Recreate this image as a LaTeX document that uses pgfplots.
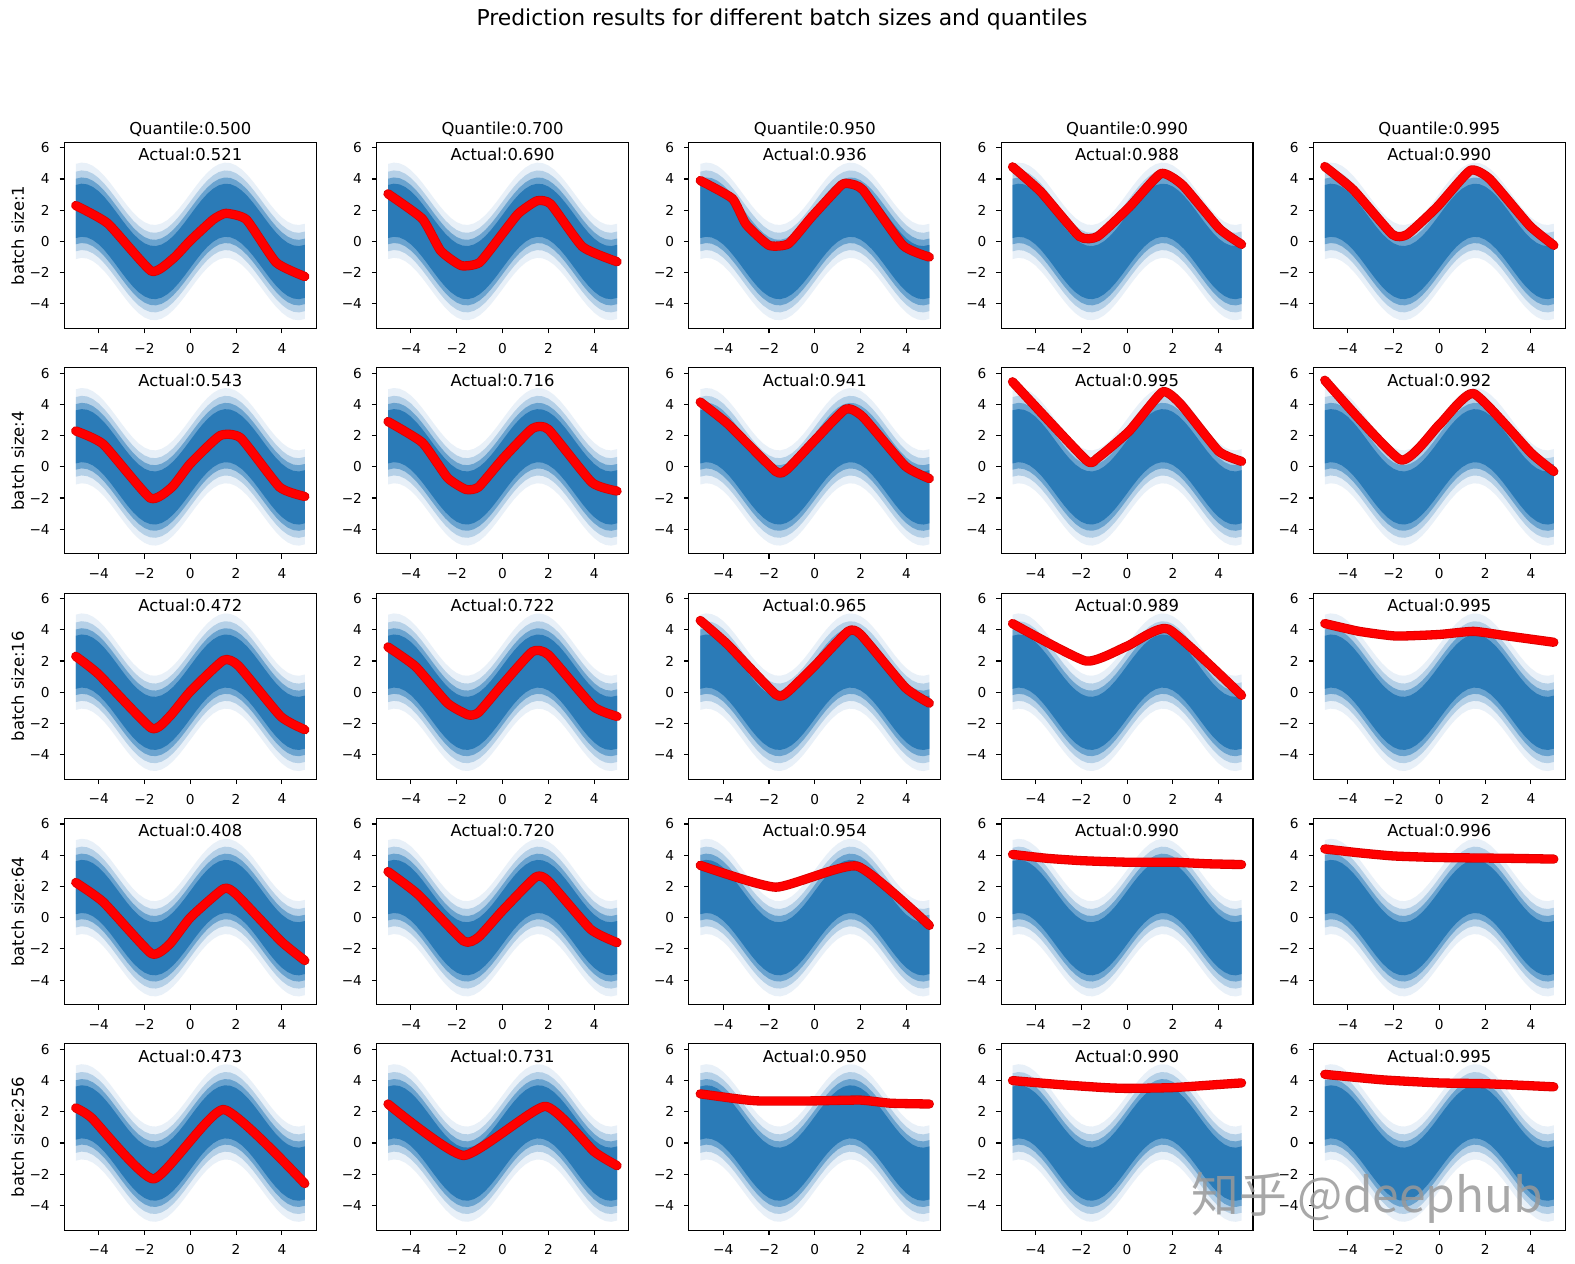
\documentclass[border=0pt]{standalone}
\usepackage{pgfplots}
\pgfplotsset{compat=1.18}
\usepackage{pgfplotstable}
\usepackage{fontspec}
\setmainfont{DejaVu Sans}
\newfontfamily\cjk{Noto Sans CJK SC}

\definecolor{b1}{HTML}{E8F0F8}
\definecolor{b2}{HTML}{B5D0E7}
\definecolor{b3}{HTML}{6AA3CF}
\definecolor{b4}{HTML}{2B7BB7}
\definecolor{redE}{HTML}{D80000}
\definecolor{redC}{HTML}{FF0000}

% centre of the blue point cloud (forward, then back: s = side)
\pgfplotstableread{
x c s
-5.00 1.918 1
-4.75 1.999 1
-4.50 1.955 1
-4.25 1.790 1
-4.00 1.514 1
-3.75 1.143 1
-3.50 0.702 1
-3.25 0.216 1
-3.00 -0.282 1
-2.75 -0.763 1
-2.50 -1.197 1
-2.25 -1.556 1
-2.00 -1.819 1
-1.75 -1.968 1
-1.50 -1.995 1
-1.25 -1.898 1
-1.00 -1.683 1
-0.75 -1.363 1
-0.50 -0.959 1
-0.25 -0.495 1
0.00 0.000 1
0.25 0.495 1
0.50 0.959 1
0.75 1.363 1
1.00 1.683 1
1.25 1.898 1
1.50 1.995 1
1.75 1.968 1
2.00 1.819 1
2.25 1.556 1
2.50 1.197 1
2.75 0.763 1
3.00 0.282 1
3.25 -0.216 1
3.50 -0.702 1
3.75 -1.143 1
4.00 -1.514 1
4.25 -1.790 1
4.50 -1.955 1
4.75 -1.999 1
5.00 -1.918 1
5.00 -1.918 -1
4.75 -1.999 -1
4.50 -1.955 -1
4.25 -1.790 -1
4.00 -1.514 -1
3.75 -1.143 -1
3.50 -0.702 -1
3.25 -0.216 -1
3.00 0.282 -1
2.75 0.763 -1
2.50 1.197 -1
2.25 1.556 -1
2.00 1.819 -1
1.75 1.968 -1
1.50 1.995 -1
1.25 1.898 -1
1.00 1.683 -1
0.75 1.363 -1
0.50 0.959 -1
0.25 0.495 -1
0.00 0.000 -1
-0.25 -0.495 -1
-0.50 -0.959 -1
-0.75 -1.363 -1
-1.00 -1.683 -1
-1.25 -1.898 -1
-1.50 -1.995 -1
-1.75 -1.968 -1
-2.00 -1.819 -1
-2.25 -1.556 -1
-2.50 -1.197 -1
-2.75 -0.763 -1
-3.00 -0.282 -1
-3.25 0.216 -1
-3.50 0.702 -1
-3.75 1.143 -1
-4.00 1.514 -1
-4.25 1.790 -1
-4.50 1.955 -1
-4.75 1.999 -1
-5.00 1.918 -1
}\cloud

\newcommand\band[2]{%
\addplot[fill=#2, draw=none, forget plot] table[x=x, y expr=\thisrow{c}+\thisrow{s}*#1]{\cloud};
}
\newcommand\cloudbands{\band{3.05}{b1}\band{2.55}{b2}\band{2.1}{b3}\band{1.7}{b4}}

\pgfplotsset{
  panel/.style={
    scale only axis, width=184.3pt, height=136.2pt,
    anchor=north west,
    xmin=-5.5, xmax=5.5, ymin=-5.58, ymax=6.35,
    xtick={-4,-2,0,2,4}, ytick={-4,-2,0,2,4,6},
    xticklabels={−4,−2,0,2,4}, yticklabels={−4,−2,0,2,4,6},
    tick align=outside, tick pos=left,
    major tick length=3.5pt,
    every tick/.style={black, line width=0.8pt},
    axis line style={line width=0.8pt},
    ticklabel style={font=\fontsize{10}{12}\selectfont, inner sep=0pt},
    xticklabel style={anchor=north, yshift=-7pt},
    yticklabel style={anchor=east, xshift=-7pt},
    every axis title/.style={at={(0.5,1)}, anchor=base, yshift=6pt, font=\fontsize{12}{14}\selectfont},
    every axis y label/.style={at={(-0.16,0.5)}, rotate=90, anchor=base, font=\fontsize{12}{14}\selectfont},
    clip mode=individual,
    axis on top,
  }
}

\newcommand\panel[5][]{%
\begin{axis}[panel, at={({47.03pt+#2*228.39pt},{820.4pt-#3*164.86pt})}, #1]
\cloudbands
\addplot[line width=6.8pt, redE, line cap=round, line join=round, smooth, tension=0.3] coordinates {#5};
\addplot[line width=5.6pt, redC, line cap=round, line join=round, smooth, tension=0.3] coordinates {#5};
\node[anchor=base, yshift=-13.5pt, font=\fontsize{12}{14}\selectfont] at (rel axis cs:0.5,1) {Actual:#4};
\end{axis}}

\begin{document}
\begin{tikzpicture}
\path[use as bounding box, fill=white] (0,0) rectangle (1152pt,924.5pt);
\node[anchor=base, font=\fontsize{16}{19}\selectfont] at (572pt,905.5pt) {Prediction results for different batch sizes and quantiles};

% row 0 : batch size 1
\panel[title={Quantile:0.500}, ylabel={batch size:1}]{0}{0}{0.521}{(-5,2.3) (-3.6,1.15) (-1.7,-1.9) (-0.75,-1.1) (0,0.05) (1.0,1.4) (1.55,1.8) (2.45,1.4) (3.75,-1.35) (5,-2.25)}
\panel[title={Quantile:0.700}]{1}{0}{0.690}{(-5,3.05) (-3.5,1.45) (-2.7,-0.6) (-1.8,-1.55) (-1.0,-1.35) (0,0.5) (0.7,1.8) (1.5,2.6) (2.1,2.4) (3.5,-0.35) (5,-1.3)}
\panel[title={Quantile:0.950}]{2}{0}{0.936}{(-5,3.9) (-3.6,2.75) (-3.0,1.1) (-2.0,-0.25) (-1.15,-0.15) (-0.15,1.55) (1.15,3.6) (1.5,3.7) (2.1,3.3) (3.85,-0.25) (5,-1.0)}
\panel[title={Quantile:0.990}]{3}{0}{0.988}{(-5,4.78) (-3.76,3.17) (-2.08,0.32) (-1.28,0.32) (0.1,2.2) (1.48,4.35) (2.43,3.6) (4.03,0.82) (5,-0.19)}
\panel[title={Quantile:0.995}]{4}{0}{0.990}{(-5,4.8) (-3.75,3.3) (-2.05,0.45) (-1.4,0.45) (-0.1,2.2) (1.35,4.55) (2.2,4.0) (3.95,1.0) (5,-0.25)}

% row 1 : batch size 4
\panel[ylabel={batch size:4}]{0}{1}{0.543}{(-5,2.3) (-3.8,1.45) (-1.75,-2.0) (-0.8,-1.3) (0,0.2) (1.3,2.0) (2.2,1.85) (3.9,-1.3) (5,-1.9)}
\panel{1}{1}{0.716}{(-5,2.9) (-3.5,1.55) (-2.4,-0.7) (-1.6,-1.45) (-1.05,-1.3) (0,0.5) (1.3,2.45) (2,2.4) (3.9,-1.0) (5,-1.55)}
\panel{2}{1}{0.941}{(-5,4.15) (-3.8,2.75) (-1.7,-0.3) (-1.2,-0.15) (0,1.7) (1.35,3.7) (2.1,3.2) (3.95,0.05) (5,-0.75)}
\panel{3}{1}{0.995}{(-5,5.45) (-1.8,0.45) (-1.3,0.55) (0.1,2.3) (1.55,4.8) (2.35,4.0) (4,1.0) (5,0.35)}
\panel{4}{1}{0.992}{(-5,5.55) (-1.7,0.45) (0,2.7) (1.5,4.7) (4,0.9) (5,-0.3)}

% row 2 : batch size 16
\panel[ylabel={batch size:16}]{0}{2}{0.472}{(-5,2.3) (-4,1.15) (-1.7,-2.3) (-0.9,-1.55) (0,0.05) (1.45,2.05) (2.1,1.7) (3.95,-1.55) (5,-2.4)}
\panel{1}{2}{0.722}{(-5,2.9) (-3.8,1.65) (-2.4,-0.7) (-1.5,-1.45) (-1.05,-1.3) (0,0.5) (1.3,2.6) (2,2.4) (3.95,-0.9) (5,-1.55)}
\panel{2}{2}{0.965}{(-5,4.6) (-3.8,3.05) (-1.7,-0.15) (-1.2,0) (0,1.7) (1.45,3.9) (2,3.7) (3.95,0.3) (5,-0.7)}
\panel{3}{2}{0.989}{(-5,4.4) (-1.8,2.0) (0,2.95) (1.8,4.05) (5,-0.2)}
\panel{4}{2}{0.995}{(-5,4.4) (-3.5,3.9) (-1.9,3.6) (0,3.7) (1.5,3.9) (3,3.6) (5,3.2)}

% row 3 : batch size 64
\panel[ylabel={batch size:64}]{0}{3}{0.408}{(-5,2.25) (-3.8,1.0) (-1.7,-2.3) (-0.9,-1.7) (0,0) (1.45,1.85) (2,1.5) (3.95,-1.5) (5,-2.75)}
\panel{1}{3}{0.720}{(-5,2.95) (-3.7,1.5) (-1.7,-1.5) (-1.05,-1.25) (0,0.45) (1.45,2.6) (2,2.35) (3.85,-0.75) (5,-1.6)}
\panel{2}{3}{0.954}{(-5,3.35) (-1.7,1.95) (1.85,3.3) (5,-0.5)}
\panel{3}{3}{0.990}{(-5,4.05) (-3.5,3.8) (-2,3.65) (0,3.55) (2,3.55) (3.5,3.45) (5,3.4)}
\panel{4}{3}{0.996}{(-5,4.4) (-3.5,4.15) (-2,3.95) (0,3.85) (3,3.8) (5,3.75)}

% row 4 : batch size 256
\panel[ylabel={batch size:256}]{0}{4}{0.473}{(-5,2.25) (-4.3,1.6) (-1.6,-2.3) (1.45,2.15) (5,-2.6)}
\panel{1}{4}{0.731}{(-5,2.5) (-1.7,-0.8) (1.85,2.35) (4,-0.55) (5,-1.45)}
\panel{2}{4}{0.950}{(-5,3.15) (-3.5,2.85) (-2.5,2.7) (0,2.7) (2,2.75) (3.3,2.55) (5,2.5)}
\panel{3}{4}{0.990}{(-5,4.0) (-3,3.75) (-1,3.55) (0,3.5) (2,3.55) (4,3.75) (5,3.85)}
\panel{4}{4}{0.995}{(-5,4.4) (-2.5,4.05) (0,3.85) (2,3.8) (5,3.6)}

\node[anchor=base west, text=gray!80, opacity=0.85, font=\cjk\fontsize{35}{40}\selectfont] at (868pt,38pt) {知乎 @deephub};
\end{tikzpicture}
\end{document}
